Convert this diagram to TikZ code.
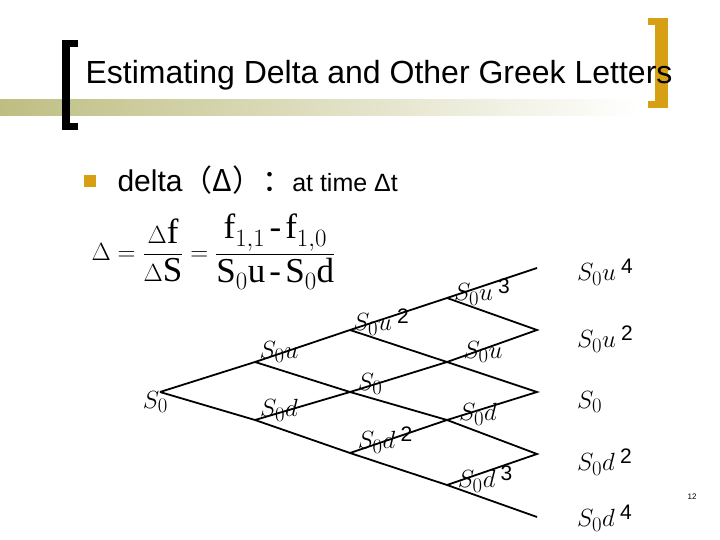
\documentclass[tikz,border=0pt]{standalone}
\usepackage{amsmath}
\usepackage{fontspec}
\setsansfont{Liberation Sans}
\setmainfont{Liberation Serif}
\newfontfamily\cjkfont{Noto Sans CJK SC}
\usetikzlibrary{positioning}
\definecolor{olive}{RGB}{190,190,130}
\definecolor{gold}{RGB}{215,160,20}
\newcommand{\pw}[1]{\,{\sffamily\fontsize{21}{21}\selectfont\raisebox{7pt}{#1}}}
\begin{document}
\begin{tikzpicture}[x=1pt,y=-1pt,
    lbl/.style={inner sep=0pt, font=\fontsize{31}{31}\selectfont},
    leaf/.style={lbl, anchor=west},
    branch/.style={line width=1.8pt}]
    \useasboundingbox (0,0) rectangle (720,540);
    % Title
    \shade[left color=olive, right color=white] (0,100) rectangle (640,116);
    \fill[black] (62,40) rectangle (70,130);
    \fill[black] (62,40) rectangle (78,47);
    \fill[black] (62,123) rectangle (78,130);
    \fill[gold] (655,18) rectangle (668,108);
    \fill[gold] (648,18) rectangle (668,25);
    \fill[gold] (648,101) rectangle (668,108);
    \node[anchor=west, font=\sffamily\fontsize{32}{32}\selectfont] (title) at (82,75) {Estimating Delta and Other Greek Letters};
    % Bullet
    \fill[gold] (84,175) rectangle (96,187);
    \node[anchor=west, font=\sffamily\fontsize{30}{30}\selectfont] (bullet) at (114,180)
      {delta{\cjkfont（Δ）：}{\fontsize{25}{25}\selectfont at time Δt}};
    \node[anchor=west, font=\fontsize{35}{35}\selectfont] (formula) at (88,252)
      {$\Delta=\dfrac{\Delta\mathrm{f}}{\Delta\mathrm{S}}=\dfrac{\mathrm{f}_{1,1}\,\text{-}\,\mathrm{f}_{1,0}}{\mathrm{S}_0\mathrm{u}\,\text{-}\,\mathrm{S}_0\mathrm{d}}$};
    % Tree points
    \coordinate (n0) at (160,392);
    \coordinate (a1) at (255,362); \coordinate (b1) at (255,420);
    \coordinate (a2) at (350,330); \coordinate (b2) at (350,392); \coordinate (c2) at (350,453);
    \coordinate (a3) at (447,298); \coordinate (b3) at (447,362); \coordinate (c3) at (447,420); \coordinate (d3) at (447,485);
    \coordinate (a4) at (537,268); \coordinate (b4) at (537,330); \coordinate (c4) at (537,392); \coordinate (d4) at (537,454); \coordinate (e4) at (537,517);
    % Branches
    \draw[branch] (n0) -- (a1) -- (a2) -- (a3) -- (a4);
    \draw[branch] (n0) -- (b1) -- (c2) -- (d3) -- (e4);
    \draw[branch] (a1) -- (b2) -- (c3) -- (d4) -- (d3);
    \draw[branch] (b1) -- (b2) -- (b3) -- (b4) -- (a3);
    \draw[branch] (a2) -- (b3) -- (c4) -- (c3) -- (c2);
    % Labels
    \node[lbl, anchor=east] (l0) at (168,402) {$S_0$};
    \node[lbl] (la1) at (279,352) {$S_0u$};
    \node[lbl] (lb1) at (279,410) {$S_0d$};
    \node[lbl] (la2) at (381,322) {$S_0u$\pw{2}};
    \node[lbl] (lb2) at (370,384) {$S_0$};
    \node[lbl] (lc2) at (385,440) {$S_0d$\pw{2}};
    \node[lbl] (la3) at (482,292) {$S_0u$\pw{3}};
    \node[lbl] (lb3) at (483,352) {$S_0u$};
    \node[lbl] (lc3) at (478,414) {$S_0d$};
    \node[lbl] (ld3) at (485,479) {$S_0d$\pw{3}};
    \node[leaf] (la4) at (577,272) {$S_0u$\pw{4}};
    \node[leaf] (lb4) at (577,339) {$S_0u$\pw{2}};
    \node[leaf] (lc4) at (577,402) {$S_0$};
    \node[leaf] (ld4) at (577,462) {$S_0d$\pw{2}};
    \node[leaf] (le4) at (577,518) {$S_0d$\pw{4}};
    \node[font=\sffamily\fontsize{8}{8}\selectfont] (page) at (692,497) {12};
\end{tikzpicture}
\end{document}
